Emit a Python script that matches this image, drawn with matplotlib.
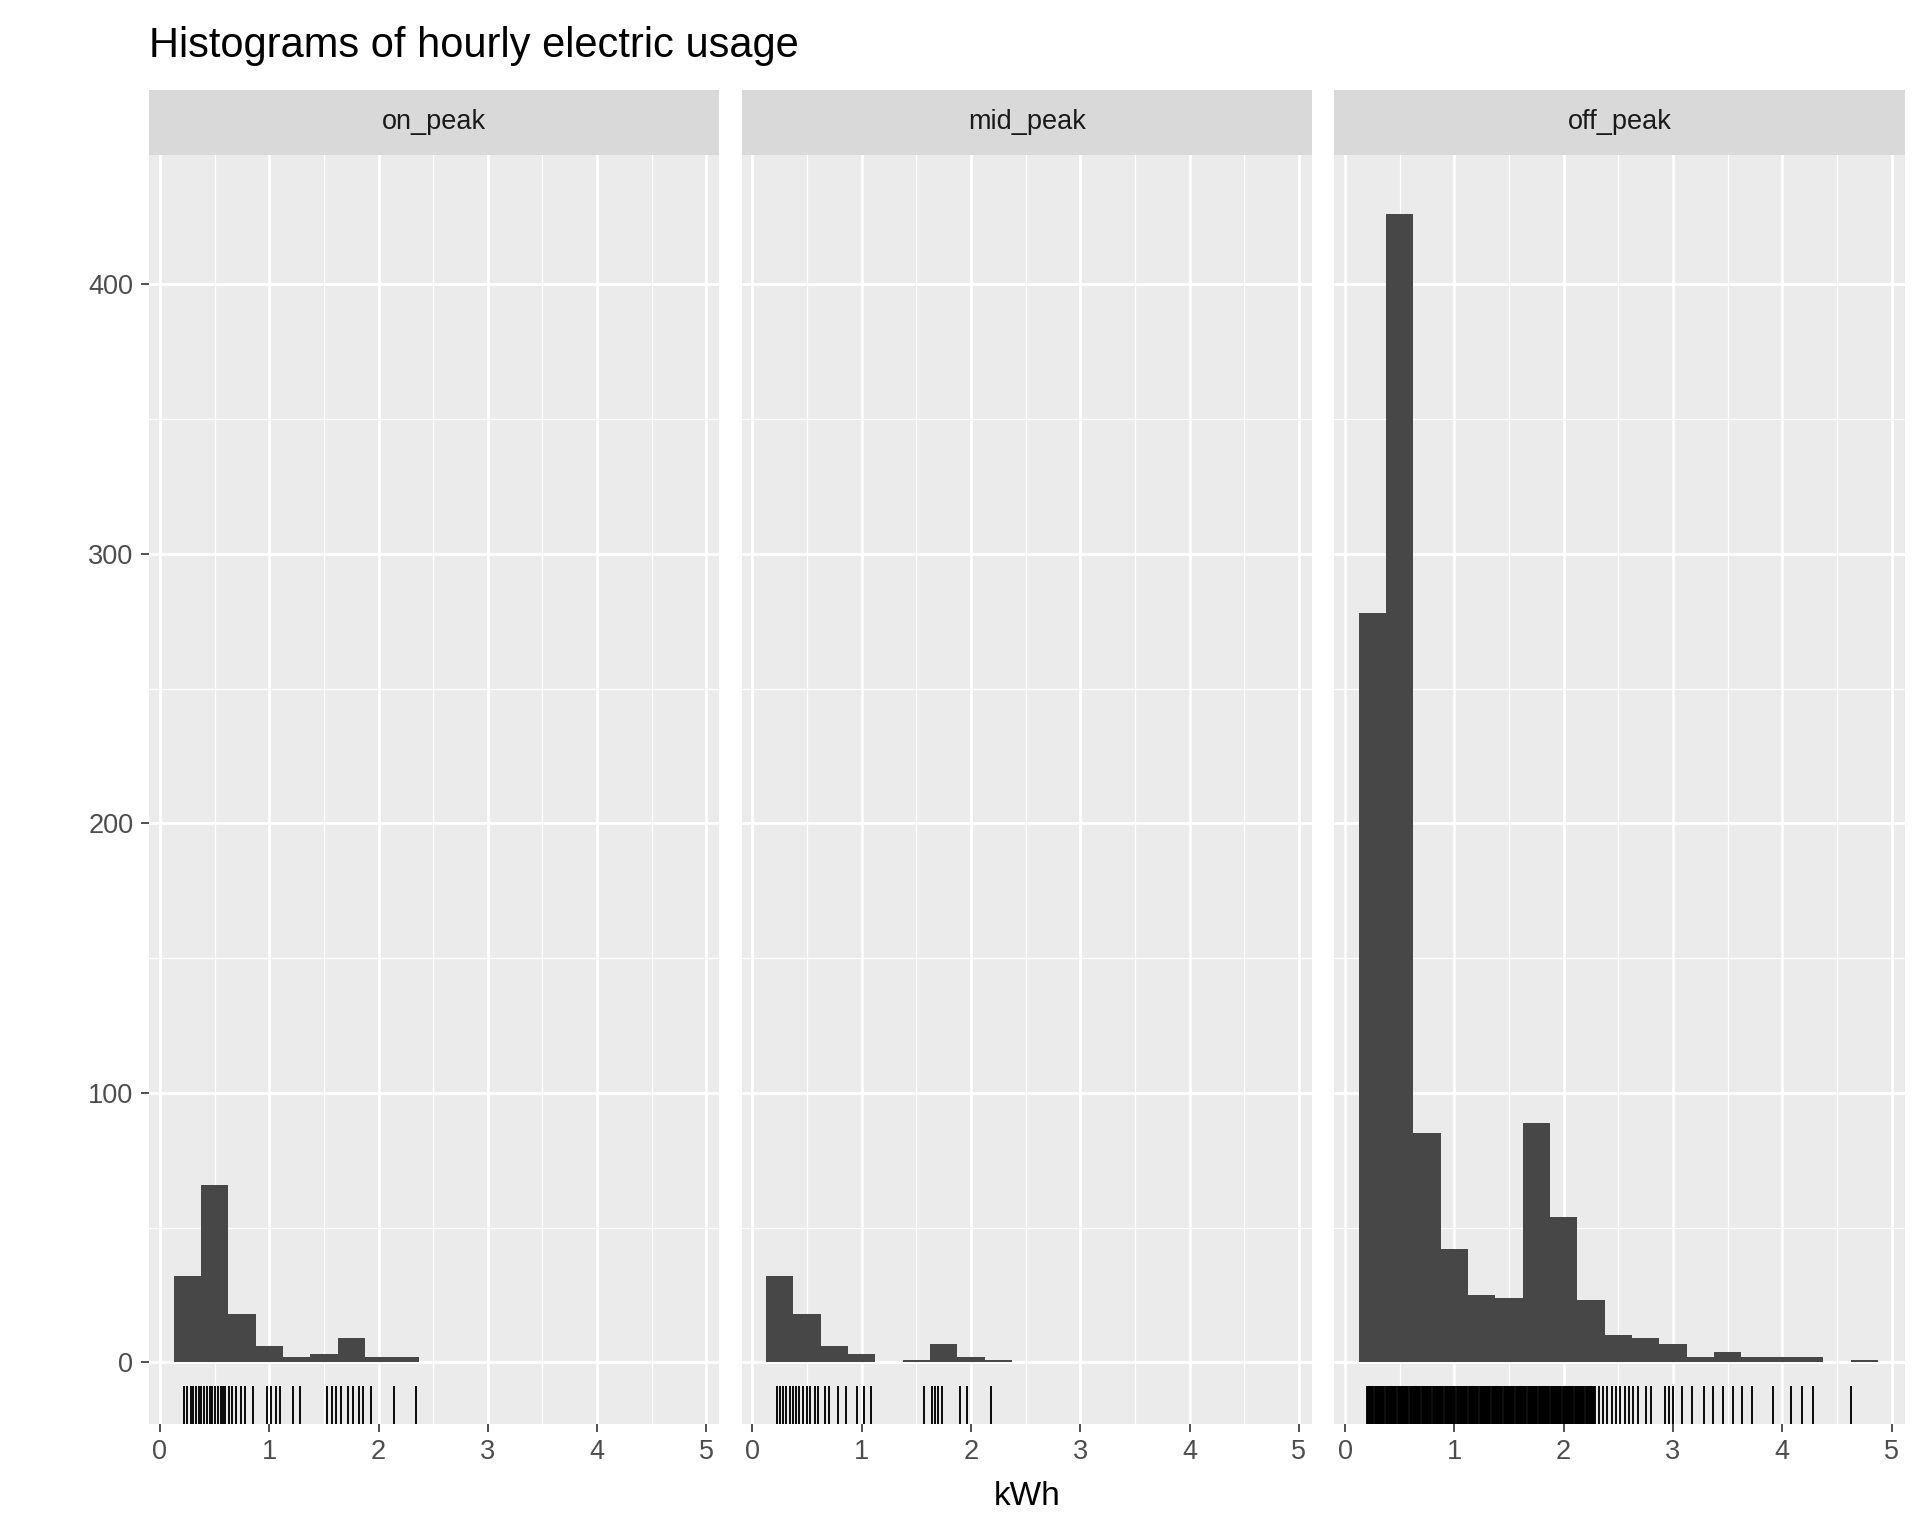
import numpy as np
import matplotlib.pyplot as plt
from matplotlib.patches import Rectangle

panels = ["on_peak", "mid_peak", "off_peak"]
bin_lefts = np.arange(0.125, 4.875, 0.25)
counts = {
    "on_peak": [32, 66, 18, 6, 2, 3, 9, 2, 2, 0, 0, 0, 0, 0, 0, 0, 0, 0, 0],
    "mid_peak": [32, 18, 6, 3, 0, 1, 7, 2, 1, 0, 0, 0, 0, 0, 0, 0, 0, 0, 0],
    "off_peak": [278, 426, 85, 42, 25, 24, 89, 54, 23, 10, 9, 7, 2, 4, 2, 2, 2, 0, 1],
}
rug = {
    "on_peak": [0.22, 0.25, 0.28, 0.3, 0.33, 0.36, 0.38, 0.4, 0.43, 0.46, 0.48, 0.5, 0.53,
                0.56, 0.58, 0.6, 0.63, 0.66, 0.7, 0.74, 0.78, 0.85, 0.98, 1.02, 1.06, 1.1,
                1.22, 1.28, 1.53, 1.57, 1.61, 1.66, 1.72, 1.77, 1.82, 1.86, 1.93, 2.14, 2.34],
    "mid_peak": [0.22, 0.25, 0.28, 0.31, 0.34, 0.37, 0.4, 0.43, 0.46, 0.5, 0.53, 0.57,
                 0.6, 0.66, 0.7, 0.78, 0.86, 0.96, 1.02, 1.08, 1.57, 1.64, 1.67, 1.7,
                 1.73, 1.9, 1.96, 2.18],
    "off_peak": list(np.round(np.arange(0.2, 2.3, 0.01), 2)) +
                [2.32, 2.36, 2.4, 2.44, 2.48, 2.52, 2.56, 2.6, 2.63, 2.68, 2.75, 2.8, 2.93,
                 2.96, 3.0, 3.08, 3.17, 3.28, 3.37, 3.46, 3.55, 3.63, 3.72, 3.92, 4.08,
                 4.18, 4.28, 4.63],
}

fig = plt.figure(figsize=(12.8, 10.24), dpi=150)
plt.rcParams['font.family'] = ['Liberation Sans', 'DejaVu Sans']
left, right, gap = 0.0776, 0.992, 0.0115
w = (right - left - 2 * gap) / 3
bottom, top, strip_top = 0.073, 0.899, 0.9415
for i, name in enumerate(panels):
    x0 = left + i * (w + gap)
    ax = fig.add_axes([x0, bottom, w, top - bottom])
    ax.set_facecolor("#EBEBEB")
    ax.set_xlim(-0.1, 5.12)
    ax.set_ylim(-22.8, 448)
    ax.set_xticks(range(6))
    ax.set_xticks(np.arange(0.5, 5, 1), minor=True)
    ax.set_yticks([0, 100, 200, 300, 400])
    ax.set_yticks([50, 150, 250, 350], minor=True)
    ax.grid(True, which="major", color="white", lw=1.3)
    ax.grid(True, which="minor", color="white", lw=0.6)
    ax.set_axisbelow(True)
    for s in ax.spines.values():
        s.set_visible(False)
    ax.tick_params(which="major", length=4, color="#333333", labelsize=13, labelcolor="#4D4D4D")
    ax.tick_params(which="minor", length=0)
    if i > 0:
        ax.tick_params(axis="y", labelleft=False, length=0)
    ax.bar(bin_lefts, counts[name], width=0.25, align="edge", color="#474747", zorder=2)
    ax.vlines(rug[name], 0, 0.03, transform=ax.get_xaxis_transform(), color="black", lw=0.9, zorder=3)
    sax = fig.add_axes([x0, top, w, strip_top - top])
    sax.add_patch(Rectangle((0, 0), 1, 1, color="#D9D9D9", transform=sax.transAxes))
    sax.text(0.5, 0.5, name, ha="center", va="center", fontsize=13, color="#1A1A1A")
    sax.axis("off")

fig.text(0.535, 0.02, "kWh", ha="center", fontsize=16)
fig.text(0.0776, 0.963, "Histograms of hourly electric usage", fontsize=20)
fig.savefig("out.png")
